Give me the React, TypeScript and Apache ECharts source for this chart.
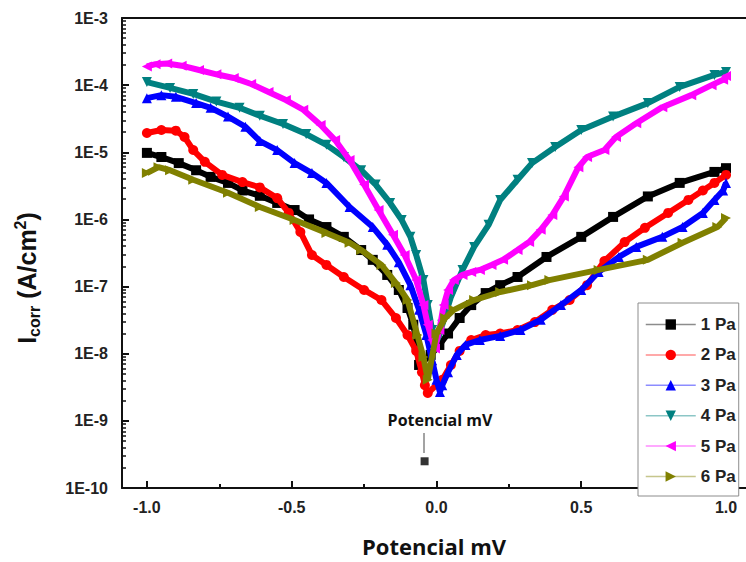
import React, { useEffect, useRef } from "react";
import * as echarts from "echarts";

// Polarization curves: potential (V) vs corrosion current density (A/cm²)
const seriesNames = ["1 Pa", "2 Pa", "3 Pa", "4 Pa", "5 Pa", "6 Pa"];
const seriesColors = ["#000000", "#ff0000", "#0000ff", "#008080", "#ff00ff", "#808000"];
const seriesSymbols = ["rect", "circle", "triangle", "triangle", "triangle", "triangle"];
const seriesRotations = [0, 0, 0, 180, 90, -90];

const xTickValues = [-1, -0.5, 0, 0.5, 1];
const xMinorTickValues = [-0.75, -0.25, 0.25, 0.75];
const decadeExponents = [-10, -9, -8, -7, -6, -5, -4, -3];

const pa1: number[][] = [
  [-1.0, 9.8e-6], [-0.95, 8.5e-6], [-0.89, 6.9e-6], [-0.83, 5.4e-6], [-0.78, 4.3e-6],
  [-0.72, 3.5e-6], [-0.67, 2.7e-6], [-0.61, 2.25e-6], [-0.55, 1.76e-6], [-0.49, 1.38e-6],
  [-0.44, 1.0e-6], [-0.38, 7.7e-7], [-0.32, 5.5e-7], [-0.26, 3.5e-7], [-0.22, 2.5e-7],
  [-0.17, 1.49e-7], [-0.13, 8.9e-8], [-0.1, 4.8e-8], [-0.08, 2.7e-8], [-0.068, 1.35e-8],
  [-0.06, 6.8e-9], [-0.02, 9.6e-9], [0.01, 1.35e-8], [0.04, 2.0e-8], [0.08, 3.4e-8],
  [0.12, 5.3e-8], [0.17, 8.0e-8], [0.22, 1.05e-7], [0.28, 1.39e-7], [0.38, 2.76e-7],
  [0.5, 5.5e-7], [0.61, 1.09e-6], [0.73, 2.2e-6], [0.84, 3.5e-6], [0.96, 5.1e-6], [1.0, 5.8e-6],
];

const pa2: number[][] = [
  [-1.0, 1.94e-5], [-0.95, 2.15e-5], [-0.9, 2.1e-5], [-0.87, 1.69e-5], [-0.84, 1.08e-5],
  [-0.8, 7.2e-6], [-0.74, 4.6e-6], [-0.67, 3.6e-6], [-0.61, 3.0e-6], [-0.55, 2.08e-6],
  [-0.51, 1.25e-6], [-0.47, 6.5e-7], [-0.43, 2.95e-7], [-0.38, 2.1e-7], [-0.32, 1.39e-7],
  [-0.25, 8.9e-8], [-0.19, 6.3e-8], [-0.14, 3.4e-8], [-0.1, 1.9e-8], [-0.07, 1.1e-8],
  [-0.05, 5.3e-9], [-0.04, 3.4e-9], [-0.03, 2.6e-9], [0.02, 4.1e-9], [0.05, 6.8e-9],
  [0.08, 1.1e-8], [0.12, 1.6e-8], [0.17, 1.9e-8], [0.22, 2.0e-8], [0.28, 2.25e-8],
  [0.34, 2.96e-8], [0.4, 4.5e-8], [0.46, 6.3e-8], [0.52, 1.05e-7], [0.58, 2.4e-7],
  [0.65, 4.6e-7], [0.72, 7.5e-7], [0.8, 1.25e-6], [0.87, 1.95e-6], [0.92, 2.7e-6],
  [0.96, 3.5e-6], [1.0, 4.6e-6],
];

const pa3: number[][] = [
  [-1.0, 6.4e-5], [-0.95, 7.1e-5], [-0.9, 6.7e-5], [-0.83, 5.4e-5], [-0.78, 4.6e-5],
  [-0.72, 3.4e-5], [-0.66, 2.4e-5], [-0.61, 1.47e-5], [-0.55, 1.08e-5], [-0.49, 6.9e-6],
  [-0.43, 4.9e-6], [-0.38, 3.5e-6], [-0.3, 1.53e-6], [-0.22, 7.7e-7], [-0.17, 4.2e-7],
  [-0.13, 2.3e-7], [-0.09, 1.05e-7], [-0.06, 4.5e-8], [-0.035, 1.9e-8], [-0.015, 8.0e-9],
  [0.0, 4.1e-9], [0.012, 2.7e-9], [0.02, 3.4e-9], [0.04, 5.3e-9], [0.07, 9.6e-9],
  [0.1, 1.35e-8], [0.15, 1.6e-8], [0.22, 1.84e-8], [0.29, 2.25e-8], [0.36, 3.2e-8],
  [0.43, 5.3e-8], [0.5, 8.9e-8], [0.56, 1.65e-7], [0.63, 2.76e-7], [0.69, 3.9e-7],
  [0.78, 5.5e-7], [0.85, 7.7e-7], [0.92, 1.25e-6], [0.96, 1.95e-6], [0.99, 2.7e-6], [1.0, 3.5e-6],
];

const pa4: number[][] = [
  [-1.0, 1.11e-4], [-0.92, 9.1e-5], [-0.84, 7.4e-5], [-0.76, 5.7e-5], [-0.68, 4.6e-5],
  [-0.61, 3.5e-5], [-0.53, 2.64e-5], [-0.45, 1.87e-5], [-0.38, 1.29e-5], [-0.32, 8.5e-6],
  [-0.26, 5.4e-6], [-0.21, 3.3e-6], [-0.16, 1.76e-6], [-0.12, 9.8e-7], [-0.09, 5.5e-7],
  [-0.07, 2.95e-7], [-0.045, 1.25e-7], [-0.03, 5.3e-8], [-0.015, 2.25e-8], [-0.005, 1.35e-8],
  [0.01, 1.9e-8], [0.02, 2.7e-8], [0.05, 7.0e-8], [0.09, 1.77e-7], [0.13, 3.9e-7],
  [0.18, 8.3e-7], [0.22, 1.95e-6], [0.28, 3.9e-6], [0.33, 6.9e-6], [0.41, 1.2e-5],
  [0.5, 2.15e-5], [0.61, 3.4e-5], [0.73, 5.4e-5], [0.84, 9.4e-5], [0.96, 1.42e-4], [1.0, 1.57e-4],
];

const pa5: number[][] = [
  [-1.0, 1.9e-4], [-0.97, 2.05e-4], [-0.93, 2.1e-4], [-0.88, 1.95e-4], [-0.82, 1.68e-4],
  [-0.76, 1.45e-4], [-0.7, 1.28e-4], [-0.64, 1.04e-4], [-0.58, 7.9e-5], [-0.52, 6.0e-5],
  [-0.46, 4.3e-5], [-0.4, 2.55e-5], [-0.35, 1.52e-5], [-0.3, 7.7e-6], [-0.25, 3.3e-6],
  [-0.2, 1.38e-6], [-0.15, 5.9e-7], [-0.11, 2.95e-7], [-0.07, 1.25e-7], [-0.045, 5.3e-8],
  [-0.03, 2.7e-8], [-0.015, 1.6e-8], [-0.005, 1.2e-8], [0.01, 2.25e-8], [0.025, 5.3e-8],
  [0.04, 8.9e-8], [0.06, 1.25e-7], [0.09, 1.49e-7], [0.12, 1.65e-7], [0.15, 1.77e-7],
  [0.19, 2.1e-7], [0.23, 2.5e-7], [0.28, 3.5e-7], [0.32, 4.6e-7], [0.36, 7.0e-7],
  [0.4, 1.16e-6], [0.44, 2.2e-6], [0.49, 6.0e-6], [0.52, 8.5e-6], [0.58, 1.08e-5],
  [0.62, 1.69e-5], [0.69, 2.7e-5], [0.78, 4.7e-5], [0.88, 7.1e-5], [0.95, 1.0e-4],
  [0.99, 1.2e-4], [1.0, 1.37e-4],
];

const pa6: number[][] = [
  [-1.0, 4.9e-6], [-0.96, 6.0e-6], [-0.92, 5.4e-6], [-0.84, 3.9e-6], [-0.72, 2.5e-6],
  [-0.61, 1.53e-6], [-0.49, 9.8e-7], [-0.38, 6.3e-7], [-0.3, 4.5e-7], [-0.26, 3.5e-7],
  [-0.19, 2.1e-7], [-0.14, 1.13e-7], [-0.1, 6.3e-8], [-0.066, 1.9e-8], [-0.045, 8.9e-9],
  [-0.03, 4.1e-9], [0.0, 2.0e-8], [0.03, 3.4e-8], [0.06, 4.5e-8], [0.13, 6.3e-8],
  [0.22, 8.3e-8], [0.33, 1.05e-7], [0.39, 1.25e-7], [0.56, 1.77e-7], [0.73, 2.5e-7],
  [0.85, 4.5e-7], [0.97, 7.7e-7], [1.0, 1.05e-6],
];

// stray marker below the curves
const strayPoint: number[][] = [[-0.041, 2.5e-10]];

const seriesData = [pa1, pa2, pa3, pa4, pa5, pa6];

const LABEL_FONT = "'Liberation Sans', Arial, sans-serif";
const TITLE_FONT = "'Open Sans', 'Noto Sans', sans-serif";

export default function App() {
  const ref = useRef<HTMLDivElement>(null);

  useEffect(() => {
    if (!ref.current) return;
    const chart = echarts.init(ref.current, undefined, { renderer: "svg" });

    const minorY: number[] = [];
    decadeExponents.slice(0, -1).forEach((n) => {
      for (let k = 2; k <= 9; k++) minorY.push(n + Math.log10(k));
    });

    const xMin = -1.086;
    const xMax = 1.069;
    const axisColor = "#111";

    chart.setOption({
      animation: false,
      backgroundColor: "#fff",
      grid: { left: 122, right: 0, top: 18, bottom: 74 },
      legend: {
        data: seriesNames,
        orient: "vertical",
        left: 638,
        top: 303,
        itemWidth: 50,
        itemHeight: 13,
        itemGap: 13.4,
        padding: [13, 3, 11, 7],
        borderColor: "#8c8c8c",
        borderWidth: 1,
        backgroundColor: "#fff",
        lineStyle: { width: 1.5, opacity: 0.45 },
        textStyle: { fontFamily: LABEL_FONT, fontWeight: "bold", fontSize: 17, color: "#222" },
      },
      xAxis: [
        {
          type: "value",
          min: xMin,
          max: xMax,
          position: "bottom",
          axisLine: { onZero: false, lineStyle: { color: axisColor, width: 2 } },
          axisTick: { inside: true, length: 7, customValues: xTickValues, lineStyle: { color: axisColor, width: 2 } },
          axisLabel: {
            customValues: xTickValues,
            formatter: (v: number) => v.toFixed(1),
            fontFamily: LABEL_FONT,
            fontWeight: "bold",
            fontSize: 16,
            color: "#222",
            margin: 11,
          },
          splitLine: { show: false },
          name: "Potencial mV",
          nameLocation: "middle",
          nameGap: 47,
          nameTextStyle: { fontFamily: TITLE_FONT, fontWeight: "bold", fontSize: 22, color: "#111" },
        },
        {
          type: "value",
          min: xMin,
          max: xMax,
          position: "top",
          axisLine: { onZero: false, lineStyle: { color: axisColor, width: 2 } },
          axisTick: { show: false },
          axisLabel: { show: false },
          splitLine: { show: false },
        },
        {
          type: "value",
          min: xMin,
          max: xMax,
          position: "bottom",
          axisLine: { show: false, onZero: false },
          axisTick: { inside: true, length: 4, customValues: xMinorTickValues, lineStyle: { color: axisColor, width: 2 } },
          axisLabel: { show: false },
          splitLine: { show: false },
        },
      ],
      yAxis: [
        {
          type: "log",
          logBase: 10,
          min: 1e-10,
          max: 1e-3,
          position: "left",
          axisLine: { onZero: false, lineStyle: { color: axisColor, width: 2 } },
          axisTick: { inside: true, length: 7, lineStyle: { color: axisColor, width: 2 } },
          axisLabel: {
            formatter: (v: number) => "1E" + Math.round(Math.log10(v)),
            fontFamily: LABEL_FONT,
            fontWeight: "bold",
            fontSize: 16,
            color: "#222",
            margin: 14,
          },
          splitLine: { show: false },
          name: "{m|I}{sub|corr}{m| (A/cm}{sup|2}{m|)}",
          nameLocation: "middle",
          nameGap: 80,
          nameRotate: 90,
          nameTextStyle: {
            fontFamily: LABEL_FONT,
            fontWeight: "bold",
            color: "#111",
            padding: [0, 50, 0, 0],
            rich: {
              m: { fontFamily: LABEL_FONT, fontWeight: "bold", fontSize: 25, lineHeight: 30, color: "#111" },
              sub: { fontFamily: LABEL_FONT, fontWeight: "bold", fontSize: 16, verticalAlign: "bottom", lineHeight: 20, color: "#111" },
              sup: { fontFamily: LABEL_FONT, fontWeight: "bold", fontSize: 16, verticalAlign: "top", lineHeight: 20, color: "#111" },
            },
          },
        },
        {
          type: "value",
          min: -10,
          max: -3,
          position: "left",
          axisLine: { show: false, onZero: false },
          axisTick: { inside: true, length: 4, customValues: minorY, lineStyle: { color: axisColor, width: 1.5 } },
          axisLabel: { show: false },
          splitLine: { show: false },
        },
      ],
      graphic: [
        {
          type: "text",
          x: 440,
          y: 420,
          style: {
            text: "Potencial mV",
            fontFamily: TITLE_FONT,
            fontWeight: "bold",
            fontSize: 16,
            fill: "#111",
            align: "center",
            verticalAlign: "middle",
          },
          z: 10,
        },
        {
          type: "line",
          shape: { x1: 424, y1: 433, x2: 424, y2: 453 },
          style: { stroke: "#666", lineWidth: 1.2 },
          z: 10,
        },
      ],
      series: [
        ...seriesData.map((data, i) => ({
          name: seriesNames[i],
          type: "line",
          xAxisIndex: 0,
          yAxisIndex: 0,
          data,
          symbol: seriesSymbols[i],
          symbolRotate: seriesRotations[i],
          symbolSize: 10,
          showSymbol: true,
          showAllSymbol: true,
          itemStyle: { color: seriesColors[i] },
          lineStyle: { color: seriesColors[i], width: 6 },
          z: 2 + i,
        })),
        {
          name: "stray",
          type: "scatter",
          xAxisIndex: 0,
          yAxisIndex: 0,
          data: strayPoint,
          symbol: "rect",
          symbolSize: 8,
          itemStyle: { color: "#000" },
          z: 10,
        },
      ],
    });

    return () => chart.dispose();
  }, []);

  return (
    <div
      ref={ref}
      style={{ position: "absolute", left: 0, top: 0, width: 746, height: 562 }}
    />
  );
}
